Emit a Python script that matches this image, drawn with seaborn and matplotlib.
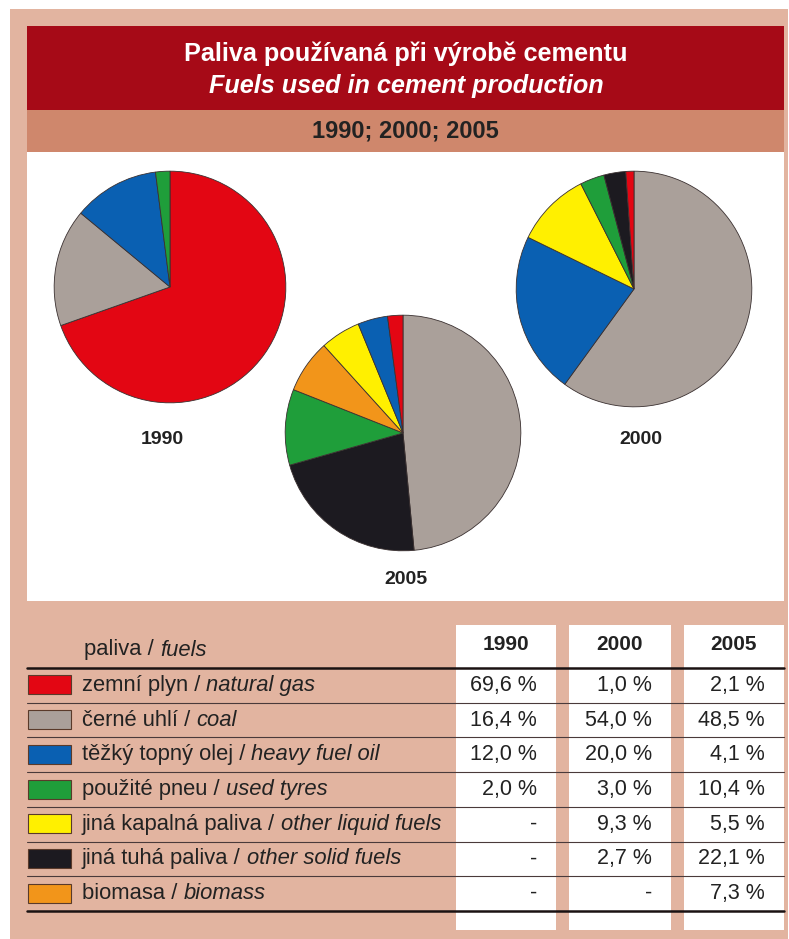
import matplotlib
matplotlib.use("Agg")
import matplotlib.pyplot as plt
import seaborn as sb
from matplotlib import font_manager
from matplotlib.patches import Rectangle

# DATA
# -----------------------------

years = ["1990", "2000", "2005"]
fuels_cz = ["zemní plyn", "černé uhlí", "těžký topný olej", "použité pneu",
            "jiná kapalná paliva", "jiná tuhá paliva", "biomasa"]
fuels_en = ["natural gas", "coal", "heavy fuel oil", "used tyres",
            "other liquid fuels", "other solid fuels", "biomass"]
fuel_colors = ["#e30613", "#aaa09a", "#0a60b2", "#1f9e3a", "#fff000", "#1c1a20", "#f2951a"]

share_1990 = [69.6, 16.4, 12.0, 2.0, None, None, None]
share_2000 = [1.0, 54.0, 20.0, 3.0, 9.3, 2.7, None]
share_2005 = [2.1, 48.5, 4.1, 10.4, 5.5, 22.1, 7.3]

# slice order clockwise from 12 o'clock
order_1990 = [0, 1, 2, 3]
order_2000 = [1, 2, 4, 3, 5, 0]
order_2005 = [1, 5, 3, 6, 4, 2, 0]

title_cz = "Paliva používaná při výrobě cementu"
title_en = "Fuels used in cement production"
subtitle = "1990; 2000; 2005"
header_cz = "paliva"
header_en = "fuels"

W, H = 789, 939
OUT = "out.png"

# STYLE
# -----------------------------

sb.set_style("white")
names = {f.name for f in font_manager.fontManager.ttflist}
SANS = "Liberation Sans" if "Liberation Sans" in names else "DejaVu Sans"
NARROW = "Liberation Sans Narrow" if "Liberation Sans Narrow" in names else SANS
plt.rcParams["font.family"] = [SANS, "DejaVu Sans"]
YEAR_SIZE = 15 if NARROW != SANS else 14

SALMON = "#e2b4a0"
DARKRED = "#a60a17"
BAND = "#cf876c"
TXT = "#222222"


def fmt(v):
    if v is None:
        return "-"
    return f"{v:.1f} %".replace(".", ",")


# BACKGROUND AND TITLE
# -----------------------------

def draw_frame(bg):
    bg.add_patch(Rectangle((10, 9), 778, 930, color=SALMON, lw=0))
    bg.add_patch(Rectangle((27, 26), 757, 84, color=DARKRED, lw=0))
    bg.add_patch(Rectangle((27, 110), 757, 42, color=BAND, lw=0))
    bg.add_patch(Rectangle((27, 152), 757, 449, color="white", lw=0))
    bg.text(406, 54, title_cz, color="white", fontsize=18.2, fontweight="bold",
            ha="center", va="center")
    bg.text(406, 86, title_en, color="white", fontsize=18.2, fontweight="bold",
            style="italic", ha="center", va="center")
    bg.text(405, 131, subtitle, color=TXT, fontsize=17, fontweight="bold",
            ha="center", va="center")


# PIES
# -----------------------------

def draw_pie(fig, bg, cx, cy, r, shares, order, label, lx, ly):
    ax = fig.add_axes([(cx - r) / W, 1 - (cy + r) / H, 2 * r / W, 2 * r / H])
    vals = [shares[i] for i in order]
    cols = [fuel_colors[i] for i in order]
    ax.pie(vals, colors=cols, startangle=90, counterclock=False, radius=1,
           wedgeprops=dict(edgecolor="#3a3030", linewidth=0.6))
    ax.set_xlim(-1.01, 1.01)
    ax.set_ylim(-1.01, 1.01)
    ax.set_aspect("equal")
    ax.axis("off")
    bg.text(lx, ly, label, color=TXT, fontsize=YEAR_SIZE, fontweight="bold",
            family=[NARROW, SANS], ha="center", va="center")


# TABLE
# -----------------------------

def mixed_text(fig, bg, x, y, regular, italic):
    r = fig.canvas.get_renderer()
    t = bg.text(x, y, regular + " / ", color=TXT, fontsize=15.8, ha="left", va="center")
    x1 = t.get_window_extent(r).x1
    bg.text(x1, y, italic, color=TXT, fontsize=15.8, style="italic", ha="left", va="center")


def draw_table(fig, bg):
    box_left = [456, 569, 684]
    box_right = [556, 671, 784]
    for l, rr in zip(box_left, box_right):
        bg.add_patch(Rectangle((l, 625), rr - l, 305, color="white", lw=0))

    top, bottom = 668, 911
    step = (bottom - top) / len(fuels_cz)

    for yr, l, rr in zip(years, box_left, box_right):
        bg.text((l + rr) / 2, 645, yr, color=TXT, fontsize=YEAR_SIZE + 1, fontweight="bold",
                family=[NARROW, SANS], ha="center", va="center")
    mixed_text(fig, bg, 84, 650, header_cz, header_en)

    bg.plot([27, 784], [top, top], color="#1a1212", lw=1.8)
    bg.plot([27, 784], [bottom, bottom], color="#1a1212", lw=1.8)
    for i in range(1, len(fuels_cz)):
        y = top + i * step
        bg.plot([27, 784], [y, y], color="#4a3a3a", lw=0.8)

    cols = [share_1990, share_2000, share_2005]
    for i in range(len(fuels_cz)):
        yc = top + (i + 0.5) * step
        bg.add_patch(Rectangle((28, yc - 10), 43, 19, facecolor=fuel_colors[i],
                               edgecolor="#5a3a2a", lw=0.8))
        mixed_text(fig, bg, 82, yc, fuels_cz[i], fuels_en[i])
        for col, rr in zip(cols, box_right):
            bg.text(rr - 19, yc, fmt(col[i]), color=TXT, fontsize=15.5,
                    ha="right", va="center")


# MAIN PIPELINE
# -----------------------------

def main():
    fig = plt.figure(figsize=(W / 100, H / 100), dpi=100)
    fig.patch.set_facecolor("white")
    bg = fig.add_axes([0, 0, 1, 1])
    bg.set_xlim(0, W)
    bg.set_ylim(H, 0)
    bg.axis("off")

    draw_frame(bg)
    draw_pie(fig, bg, 170, 287, 117, share_1990, order_1990, years[0], 162, 439)
    draw_pie(fig, bg, 634, 289, 119, share_2000, order_2000, years[1], 641, 440)
    draw_pie(fig, bg, 403, 433, 119, share_2005, order_2005, years[2], 406, 579)
    draw_table(fig, bg)

    fig.savefig(OUT, dpi=100)


if __name__ == "__main__":
    main()
